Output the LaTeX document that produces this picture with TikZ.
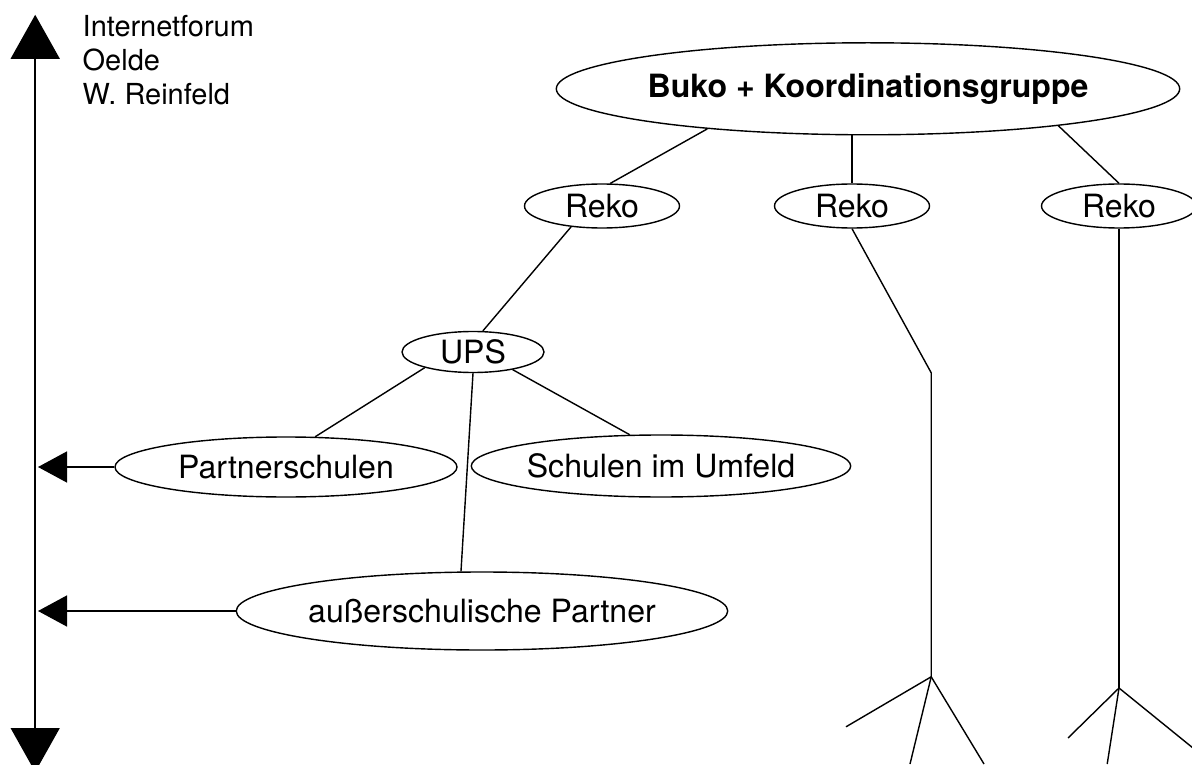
\documentclass[tikz,border=0pt]{standalone}
\usepackage{fontspec}
\setmainfont{TeX Gyre Heros}
\usetikzlibrary{shapes.geometric,arrows.meta}
\tikzset{
	bubble/.style={draw, ellipse, inner sep=0pt, font=\fontsize{22.8}{27}\selectfont},
	bigtip/.style={{Triangle[width=1.225cm, length=1.1cm]}-{Triangle[width=1.225cm, length=1.1cm]}},
	sidetip/.style={-{Triangle[width=0.775cm, length=0.725cm]}},
}
\begin{document}
\begin{tikzpicture}[line width=1pt]
		\useasboundingbox (0, 0) rectangle (29.8, 19.1);
		% axis on the left
		\coordinate (axistop) at (0.88, 18.73);
		\coordinate (axisbottom) at (0.88, -0.2);
		\draw[bigtip] (axistop) -- (axisbottom);
		\node[anchor=north west, align=left, inner sep=0pt, font=\fontsize{20.6}{24.2}\selectfont] (forum) at (2.05, 18.73) {Internetforum\\Oelde\\W. Reinfeld};
		% nodes
		\node[bubble, font=\fontsize{22.8}{27}\selectfont\bfseries, minimum width=14.15cm, minimum height=2.3cm] (buko) at (21.7, 16.88) {Buko + Koordinationsgruppe};
		\node[bubble, minimum width=3.875cm, minimum height=1.1cm] (reko1) at (15.05, 13.95) {Reko};
		\node[bubble, minimum width=3.875cm, minimum height=1.1cm] (reko2) at (21.3, 13.95) {Reko};
		\node[bubble, minimum width=3.875cm, minimum height=1.1cm] (reko3) at (27.975, 13.95) {Reko};
		\node[bubble, minimum width=3.55cm, minimum height=1.025cm] (ups) at (11.825, 10.3) {UPS};
		\node[bubble, minimum width=8.55cm, minimum height=1.5cm] (partner) at (7.15, 7.425) {Partnerschulen};
		\node[bubble, minimum width=8.85cm, minimum height=1.55cm] (umfeld) at (16.525, 7.45) {Schulen im Umfeld};
		\node[bubble, minimum width=10.75cm, minimum height=1.95cm] (ausser) at (12.05, 3.825) {außerschulische Partner};
		% free ends
		\coordinate (bend) at (23.28, 9.78);
		\coordinate (forkA) at (23.28, 2.18);
		\coordinate (forkB) at (27.975, 1.9);
		\coordinate (leafA1) at (21.15, 0.93);
		\coordinate (leafA2) at (22.75, 0);
		\coordinate (leafA3) at (24.6, 0);
		\coordinate (leafB1) at (26.7, 0.65);
		\coordinate (leafB2) at (27.68, 0);
		\coordinate (leafB3) at (30.28, 0.03);
		\coordinate (tipP) at (0.95, 7.425);
		\coordinate (tipA) at (0.95, 3.825);
		% connectors
		\draw (buko.194) -- (reko1.70);
		\draw (buko.south -| reko2.north) -- (reko2.north);
		\draw (buko.349) -- (reko3.north);
		\draw (reko1.214) -- (ups.65);
		\draw (reko2.south) -- (bend) -- (forkA);
		\draw (reko3.south) -- (forkB);
		\foreach \leaf in {leafA1, leafA2, leafA3}
			\draw (forkA) -- (\leaf);
		\foreach \leaf in {leafB1, leafB2, leafB3}
			\draw (forkB) -- (\leaf);
		\draw (ups.198) -- (partner.46);
		\draw (ups.336) -- (umfeld.135);
		\draw (ups.south) -- (ausser.118);
		\draw[sidetip] (partner.west) -- (tipP);
		\draw[sidetip] (ausser.west) -- (tipA);
	\end{tikzpicture}
\end{document}
